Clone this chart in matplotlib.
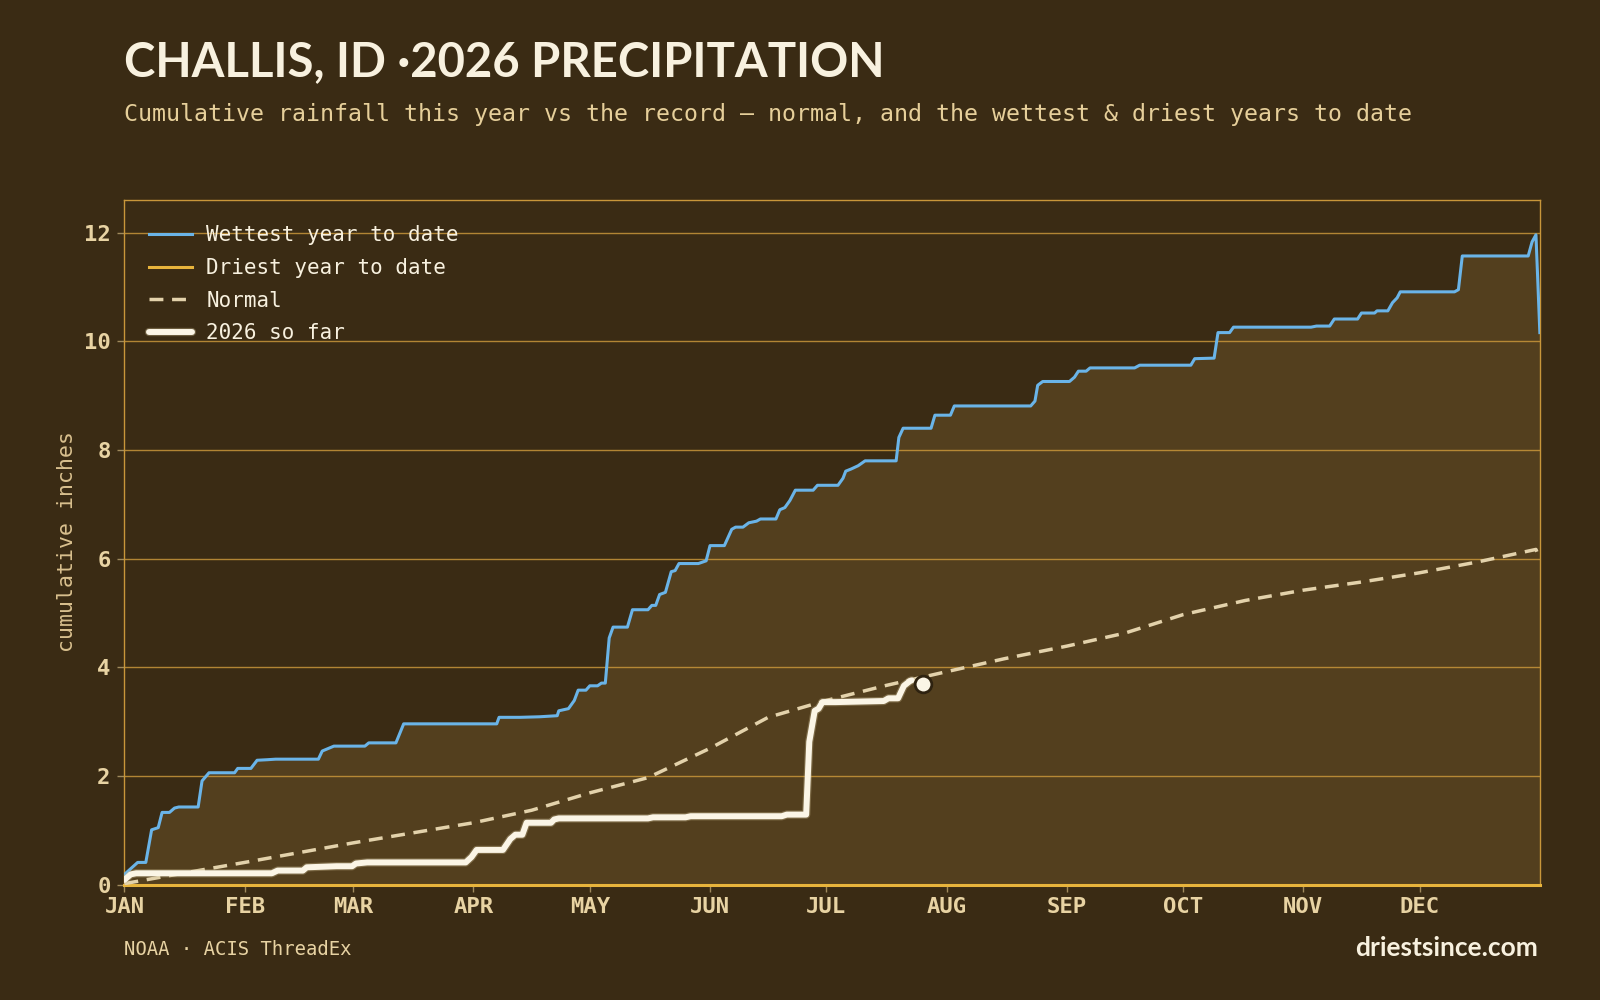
import numpy as np
import matplotlib
matplotlib.use('Agg')
import matplotlib.pyplot as plt
import matplotlib.patheffects as pe

# colores
BG = '#3a2b14'
FILL = '#533f1e'
GOLD = '#c8963a'
BEIGE = '#e8d3a3'
CREAM = '#f8f1df'
BLUE = '#6ab4e8'
DRY = '#e8b43c'
NORMAL_C = '#e3d2ab'
WHITE = '#fbf5e6'

# datos (dia del año, pulgadas acumuladas)
wet_days = [0, 2, 3.4, 5.5, 7, 8.7, 9.7, 11.6, 12.9, 14, 19, 20, 21.8, 28.4, 29.2, 32.6, 34.2, 36.8,
            39, 50, 51, 54, 62, 63, 70, 72, 96, 96.6, 102, 107, 111.6, 112, 114.5, 116, 117, 119,
            120, 122, 123, 124, 125, 126, 129.7, 131, 135, 136, 137, 138, 139.5, 141, 142, 143,
            148, 150, 151, 154.7, 156.6, 157.6, 159.5, 161, 163, 164, 168, 169, 170.3, 171.6,
            173, 177.6, 178.7, 184, 185.3, 186, 187.4, 189.2, 191, 199, 199.7, 200.8, 208, 209,
            213, 214, 233.7, 234.8, 235.5, 236.8, 243.7, 245, 246, 248, 249, 260.5, 261.8, 275,
            276, 281, 282, 285, 286, 306, 307.4, 310.8, 312, 318, 319, 322.4, 323, 325.8, 327,
            328.2, 329, 343, 344, 345, 362, 363, 364, 365]
wet_vals = [0.19, 0.32, 0.41, 0.41, 1.01, 1.05, 1.33, 1.33, 1.41, 1.43, 1.43, 1.91, 2.06, 2.06, 2.14,
            2.14, 2.29, 2.30, 2.31, 2.31, 2.46, 2.55, 2.55, 2.61, 2.61, 2.96, 2.96, 3.08, 3.08, 3.09,
            3.11, 3.20, 3.24, 3.39, 3.58, 3.58, 3.66, 3.66, 3.71, 3.71, 4.54, 4.74, 4.74, 5.06, 5.06,
            5.14, 5.14, 5.34, 5.38, 5.76, 5.78, 5.91, 5.91, 5.96, 6.24, 6.24, 6.54, 6.58, 6.58,
            6.66, 6.69, 6.73, 6.73, 6.90, 6.94, 7.07, 7.26, 7.26, 7.35, 7.35, 7.48, 7.61, 7.65,
            7.71, 7.80, 7.80, 8.23, 8.40, 8.40, 8.64, 8.64, 8.81, 8.81, 8.90, 9.19, 9.26, 9.26,
            9.34, 9.45, 9.45, 9.51, 9.51, 9.56, 9.56, 9.68, 9.69, 10.16, 10.16, 10.26, 10.26,
            10.28, 10.28, 10.41, 10.41, 10.52, 10.52, 10.56, 10.56, 10.71, 10.80, 10.91, 10.91,
            10.95, 11.57, 11.57, 11.83, 11.96, 10.16]

dry_days = [0, 365]
dry_vals = [0.0, 0.0]

normal_days = [0, 15, 31, 45, 59, 74, 90, 105, 120, 135, 151, 166, 181, 196, 212, 227,
               243, 258, 273, 289, 304, 319, 334, 349, 364, 365]
normal_vals = [0.02, 0.21, 0.41, 0.59, 0.77, 0.95, 1.14, 1.37, 1.69, 1.97, 2.51, 3.08, 3.39,
               3.66, 3.92, 4.16, 4.39, 4.63, 4.97, 5.23, 5.42, 5.57, 5.74, 5.94, 6.17, 5.98]

cur_days = [0, 1.6, 3, 38, 39.5, 46, 47, 54.7, 58.7, 59.7, 62.6, 88, 89.5, 90.8, 97.6, 99.5,
            100.8, 102.6, 103.7, 110, 110.8, 112, 135, 136.3, 144.7, 146, 169.5, 170.8, 175.8,
            176.6, 178, 179, 180, 183.4, 195.8, 197, 199.5, 201, 202.6, 203]
cur_vals = [0.09, 0.19, 0.21, 0.21, 0.26, 0.26, 0.32, 0.34, 0.34, 0.39, 0.41, 0.41, 0.51, 0.64,
            0.64, 0.84, 0.92, 0.92, 1.14, 1.14, 1.20, 1.22, 1.22, 1.24, 1.24, 1.26, 1.26, 1.29,
            1.29, 2.63, 3.20, 3.24, 3.36, 3.36, 3.38, 3.43, 3.43, 3.66, 3.75, 3.76]
today_day = 206
today_val = 3.70

month_starts = [0, 31, 59, 90, 120, 151, 181, 212, 243, 273, 304, 334]
month_labels = ['JAN', 'FEB', 'MAR', 'APR', 'MAY', 'JUN', 'JUL', 'AUG', 'SEP', 'OCT', 'NOV', 'DEC']
y_ticks = [0, 2, 4, 6, 8, 10, 12]

MONO = 'DejaVu Sans Mono'

fig = plt.figure(figsize=(16, 10), dpi=100, facecolor=BG)
ax = fig.add_axes([0.0778, 0.1153, 0.8846, 0.6847])
ax.set_facecolor(BG)

# banda entre el año más seco y el más húmedo
dry_interp = np.interp(wet_days, dry_days, dry_vals)
ax.fill_between(wet_days, dry_interp, wet_vals, color=FILL, lw=0, zorder=1)

for y in y_ticks[1:]:
    ax.axhline(y, color=GOLD, lw=1.0, alpha=0.85, zorder=2)

ax.plot(wet_days, wet_vals, color=BLUE, lw=2.2, zorder=4, label='Wettest year to date')
ax.plot(dry_days, dry_vals, color=DRY, lw=2.2, zorder=4, label='Driest year to date', clip_on=False)
ax.plot(normal_days, normal_vals, color=NORMAL_C, lw=2.5, dashes=(4, 2.5), zorder=5, label='Normal')
ax.plot(cur_days, cur_vals, color=WHITE, lw=4.3, zorder=6, label='2026 so far',
        solid_joinstyle='round', solid_capstyle='round',
        path_effects=[pe.Stroke(linewidth=6, foreground='#c9b98f', alpha=0.35), pe.Normal()])
ax.plot([today_day], [today_val], 'o', ms=12, mfc=WHITE, mec='#2e2210', mew=2, zorder=7)

ax.set_xlim(0, 365)
ax.set_ylim(0, 12.6)
ax.set_xticks(month_starts)
ax.set_xticklabels(month_labels)
ax.set_yticks(y_ticks)
ax.tick_params(axis='both', colors='#a08a5c', labelcolor=BEIGE, length=5, width=1,
               labelsize=16)
ax.tick_params(axis='x', pad=4)
ax.tick_params(axis='y', pad=5)
for lab in ax.get_xticklabels() + ax.get_yticklabels():
    lab.set_fontfamily(MONO)
    lab.set_fontweight('bold')

for s in ax.spines.values():
    s.set_color(GOLD)
    s.set_linewidth(1.0)

leg = ax.legend(loc='upper left', bbox_to_anchor=(0.0173, 0.963), frameon=False,
                borderpad=0, borderaxespad=0, handlelength=2.07, handletextpad=0.69,
                labelspacing=0.61, prop={'family': MONO, 'size': 15})
for t in leg.get_texts():
    t.set_color(CREAM)

fig.text(0.0778, 0.9235, 'CHALLIS, ID \u00b72026 PRECIPITATION', color=CREAM,
         fontsize=34, fontweight='bold', family='Lato', va='baseline', ha='left')
fig.text(0.0778, 0.8785, 'Cumulative rainfall this year vs the record \u2014 normal, and the wettest & driest years to date',
         color='#e6cf9a', fontsize=16.75, family=MONO, va='baseline', ha='left')
fig.text(0.042, 0.459, 'cumulative inches', color='#d9c08e', fontsize=15.5, family=MONO,
         rotation=90, va='center', ha='center')
fig.text(0.0778, 0.045, 'NOAA \u00b7 ACIS ThreadEx', color=BEIGE, fontsize=13.6, family=MONO,
         va='baseline', ha='left')
fig.text(0.961, 0.044, 'driestsince.com', color=CREAM, fontsize=19, fontweight='bold',
         family='Lato', va='baseline', ha='right')

fig.savefig('out.png', dpi=100, facecolor=BG)
